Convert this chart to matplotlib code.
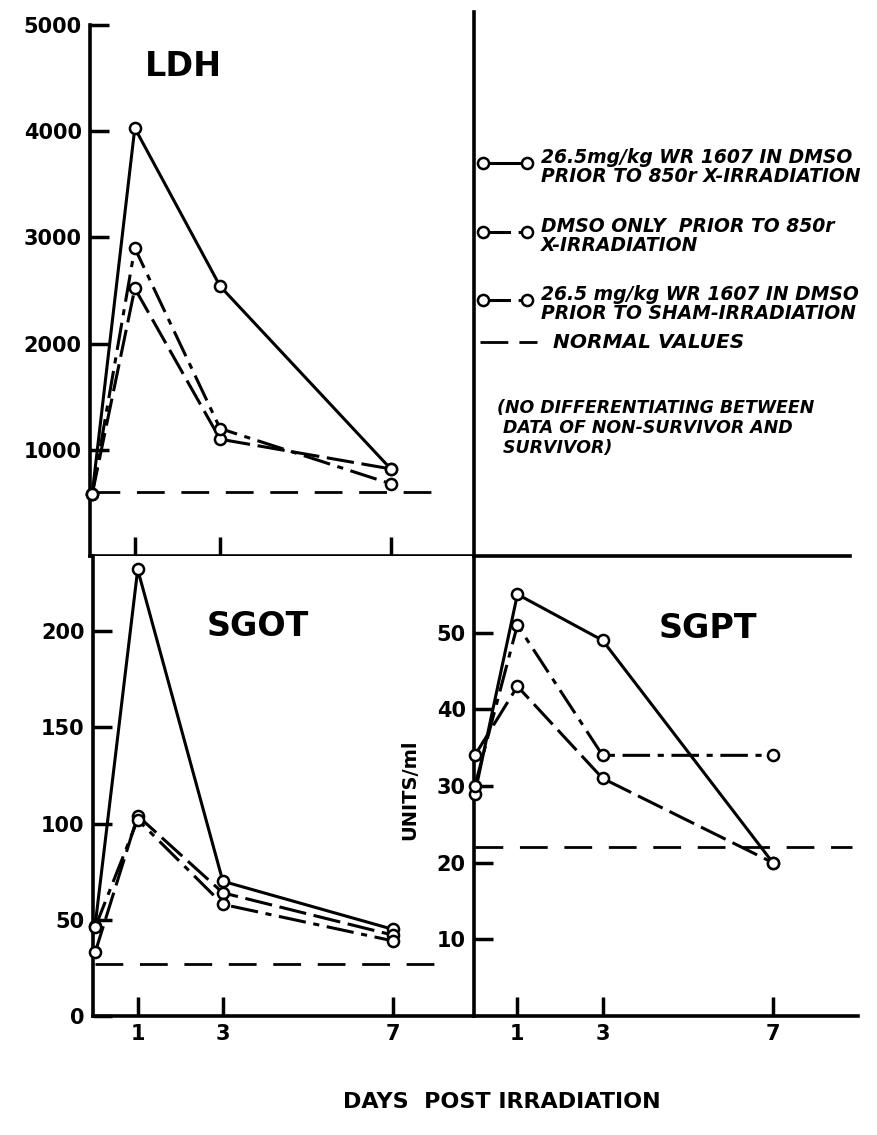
import matplotlib
matplotlib.use('Agg')
from matplotlib import pyplot as plt
from matplotlib.lines import Line2D

# days after irradiation
days = [0, 1, 3, 7]
xticks = [1, 3, 7]

# LDH
ldh_wr_850 = [580, 4030, 2540, 820]
ldh_dmso_850 = [580, 2520, 1100, 820]
ldh_wr_sham = [580, 2900, 1200, 680]
ldh_normal = 600
ldh_yticks = [1000, 2000, 3000, 4000, 5000]

# SGOT
sgot_wr_850 = [47, 232, 70, 45]
sgot_dmso_850 = [33, 104, 64, 42]
sgot_wr_sham = [46, 102, 58, 39]
sgot_normal = 27
sgot_yticks = [0, 50, 100, 150, 200]

# SGPT
sgpt_wr_850 = [29, 55, 49, 20]
sgpt_dmso_850 = [34, 43, 31, 20]
sgpt_wr_sham = [30, 51, 34, 34]
sgpt_normal = 22
sgpt_yticks = [10, 20, 30, 40, 50]

legend_labels = ['26.5mg/kg WR 1607 IN DMSO\nPRIOR TO 850r X-IRRADIATION',
                 'DMSO ONLY  PRIOR TO 850r\nX-IRRADIATION',
                 '26.5 mg/kg WR 1607 IN DMSO\nPRIOR TO SHAM-IRRADIATION']
normal_label = 'NORMAL VALUES'
note = '(NO DIFFERENTIATING BETWEEN\n DATA OF NON-SURVIVOR AND\n SURVIVOR)'

W, H = 878, 1135
LW = 2.2
styles = ['-', (0, (9, 2.5)), (0, (9, 2.5, 2, 2.5))]


def rect(l, t, r, b):
    return [l / W, 1 - b / H, (r - l) / W, (b - t) / H]


def fx(px):
    return px / W


def fy(py):
    return 1 - py / H


def style_axes(ax, yticks, show_x):
    for s in ['top', 'right']:
        ax.spines[s].set_visible(False)
    for s in ['left', 'bottom']:
        ax.spines[s].set_linewidth(2.6)
    ax.set_xticks(xticks)
    ax.set_yticks(yticks)
    ax.tick_params(direction='in', length=14, width=2.5, labelsize=15, pad=6)
    if not show_x:
        ax.set_xticklabels([])
    for lab in ax.get_xticklabels() + ax.get_yticklabels():
        lab.set_fontweight('bold')


def draw_series(ax, series, normal, nx):
    for vals, ls in zip(series, styles):
        ax.plot(days, vals, color='black', lw=LW, linestyle=ls, marker='o',
                ms=8, mfc='white', mec='black', mew=1.8, clip_on=False, zorder=3)
    ax.hlines(normal, 0, nx, colors='black', lw=2, linestyles=(0, (10, 6)))


fig = plt.figure(figsize=(W / 100, H / 100), dpi=100)

ax1 = fig.add_axes(rect(90, 25, 474, 556))
draw_series(ax1, [ldh_wr_850, ldh_dmso_850, ldh_wr_sham], ldh_normal, 8.1)
ax1.set_xlim(-0.05, 8.95)
ax1.set_ylim(0, 5000)
style_axes(ax1, ldh_yticks, False)
fig.text(fx(183), fy(66), 'LDH', fontsize=24, fontweight='bold', ha='center', va='center')

ax2 = fig.add_axes(rect(93, 556, 474, 1016))
draw_series(ax2, [sgot_wr_850, sgot_dmso_850, sgot_wr_sham], sgot_normal, 8.1)
ax2.set_xlim(-0.05, 8.9)
ax2.set_ylim(0, 239)
style_axes(ax2, sgot_yticks, True)
fig.text(fx(258), fy(626), 'SGOT', fontsize=24, fontweight='bold', ha='center', va='center')

ax3 = fig.add_axes(rect(474, 556, 858, 1016))
draw_series(ax3, [sgpt_wr_850, sgpt_dmso_850, sgpt_wr_sham], sgpt_normal, 8.85)
ax3.set_xlim(-0.02, 9.0)
ax3.set_ylim(0, 60)
style_axes(ax3, sgpt_yticks, True)
fig.text(fx(708), fy(628), 'SGPT', fontsize=24, fontweight='bold', ha='center', va='center')

# frame lines of the figure
fig.add_artist(Line2D([fx(474), fx(474)], [fy(12), fy(556)], color='black', lw=2.6))
fig.add_artist(Line2D([fx(474), fx(850)], [fy(556), fy(556)], color='black', lw=2.6))

fig.text(fx(410), fy(790), 'UNITS/ml', rotation=90, fontsize=14, fontweight='bold',
         ha='center', va='center')
fig.text(fx(502), fy(1102), 'DAYS  POST IRRADIATION', fontsize=16, fontweight='bold',
         ha='center', va='center')

# legend
leg_y = [163, 232, 300]
for y, ls, lab in zip(leg_y, styles, legend_labels):
    fig.add_artist(Line2D([fx(483), fx(527)], [fy(y), fy(y)], color='black', lw=LW,
                          linestyle=ls, marker='o', ms=8, mfc='white', mec='black', mew=1.8))
    fig.text(fx(541), fy(y + 4), lab, fontsize=13.5, fontweight='bold',
             style='italic', ha='left', va='center', linespacing=1.05)
fig.add_artist(Line2D([fx(480), fx(537)], [fy(342), fy(342)], color='black', lw=2,
                      linestyle=(0, (10, 4))))
fig.text(fx(553), fy(343), normal_label, fontsize=14.5, fontweight='bold',
         style='italic', ha='left', va='center')
fig.text(fx(497), fy(428), note, fontsize=12.5, fontweight='bold',
         style='italic', ha='left', va='center', linespacing=1.15)

fig.savefig('out.png', dpi=100)
